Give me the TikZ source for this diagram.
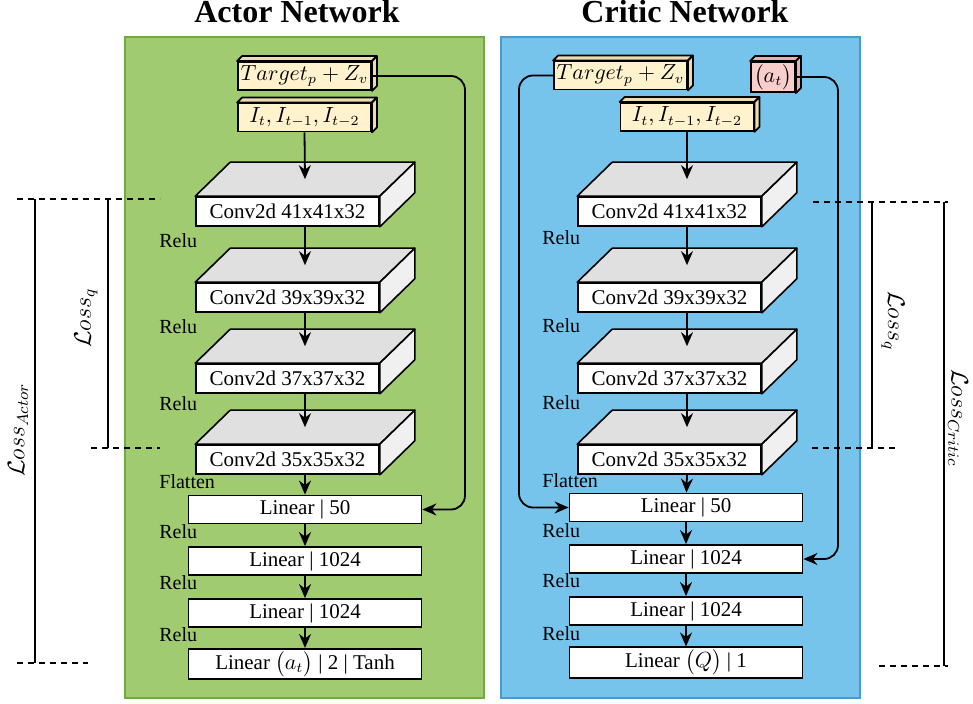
\documentclass[tikz,border=0pt]{standalone}
\usepackage{fontspec}
\setmainfont{Liberation Serif}
\usepackage{amsmath,amssymb}
\usetikzlibrary{positioning,arrows.meta,calc}
\definecolor{actorgreen}{HTML}{A1CB71}
\definecolor{actorborder}{HTML}{6FAA45}
\definecolor{criticblue}{HTML}{76C4EC}
\definecolor{criticborder}{HTML}{4A9ACD}
\definecolor{inputyellow}{HTML}{FFF2CC}
\definecolor{inputshade}{HTML}{EBDCB2}
\definecolor{actpink}{HTML}{F8CECC}
\definecolor{actshade}{HTML}{E3B2B0}
\definecolor{convtopgrey}{HTML}{E0E0E0}
\definecolor{convsidegrey}{HTML}{F0F0F0}

\begin{document}
\begin{tikzpicture}[
  x=0.5pt,y=-0.5pt,
  font=\fontsize{10.5}{12}\selectfont,
  panel/.style={rectangle,line width=0.8pt,minimum width=179.5pt,minimum height=330.5pt,inner sep=0pt},
  titletxt/.style={font=\fontsize{16}{19}\selectfont\bfseries,anchor=base},
  inbox/.style={rectangle,draw=black,line width=0.9pt,fill=inputyellow,minimum width=66.5pt,minimum height=14pt,inner sep=1pt},
  actbox/.style={rectangle,draw=black,line width=0.9pt,fill=actpink,minimum width=22pt,minimum height=15pt,inner sep=1pt},
  convbox/.style={rectangle,draw=black,line width=0.8pt,fill=white,minimum width=91.5pt,minimum height=14.5pt,inner sep=1pt},
  linbox/.style={rectangle,draw=black,line width=0.9pt,fill=white,minimum width=116.5pt,minimum height=14pt,inner sep=1pt},
  convtop/.style={draw=black,line width=0.8pt,fill=convtopgrey,line join=round},
  convside/.style={draw=black,line width=0.8pt,fill=convsidegrey,line join=round},
  lbl/.style={font=\fontsize{10}{12}\selectfont,anchor=west,inner sep=0pt},
  losslbl/.style={font=\fontsize{12}{14}\selectfont,inner sep=0pt},
  arr/.style={-{Stealth[length=7pt,width=6pt]},line width=0.9pt},
  dashln/.style={line width=0.7pt,dash pattern=on 3pt off 2.5pt},
  brk/.style={line width=0.6pt},
]
\useasboundingbox (0,0) rectangle (973,704);

% Panels and titles
\node[panel,draw=actorborder,fill=actorgreen] (apanel) at (304.5,367.5) {};
\node[panel,draw=criticborder,fill=criticblue] (cpanel) at (680.5,367.5) {};
\node[titletxt] (atitle) at (297,23) {Actor Network};
\node[titletxt] (ctitle) at (685,23) {Critic Network};

% Actor network (left)
\node[inbox] (atarget) at (304.5,76)  {$Target_p + Z_v$};
\node[inbox] (aimg)    at (304.5,117.5) {$I_t, I_{t-1}, I_{t-2}$};
\node[convbox] (a1) at (287.5,211.5) {Conv2d 41x41x32};
\node[convbox] (a2) at (287.5,297.5) {Conv2d 39x39x32};
\node[convbox] (a3) at (287.5,378.5) {Conv2d 37x37x32};
\node[convbox] (a4) at (287.5,459.5) {Conv2d 35x35x32};
\node[linbox] (al1) at (305,509.5) {Linear | 50};
\node[linbox] (al2) at (305,561)   {Linear | 1024};
\node[linbox] (al3) at (305,613)   {Linear | 1024};
\node[linbox] (al4) at (305,664)   {Linear $\bigl(a_t\bigr)$ | 2 | Tanh};
\node[lbl] (arelu1) at (159,241) {Relu};
\node[lbl] (arelu2) at (159,327) {Relu};
\node[lbl] (arelu3) at (159,404) {Relu};
\node[lbl] (aflat)  at (159,482) {Flatten};
\node[lbl] (arelu4) at (159,532) {Relu};
\node[lbl] (arelu5) at (159,583) {Relu};
\node[lbl] (arelu6) at (159,635) {Relu};

% Critic network (right)
\node[inbox]  (ctarget) at (620.5,75.5) {$Target_p + Z_v$};
\node[actbox] (cact)    at (773,77)     {$\bigl(a_t\bigr)$};
\node[inbox]  (cimg)    at (687,117)    {$I_t, I_{t-1}, I_{t-2}$};
\node[convbox] (c1) at (669.5,211.5) {Conv2d 41x41x32};
\node[convbox] (c2) at (669.5,297.5) {Conv2d 39x39x32};
\node[convbox] (c3) at (669.5,378.5) {Conv2d 37x37x32};
\node[convbox] (c4) at (669.5,459.5) {Conv2d 35x35x32};
\node[linbox] (cl1) at (686,507.5) {Linear | 50};
\node[linbox] (cl2) at (686,559)   {Linear | 1024};
\node[linbox] (cl3) at (686,611)   {Linear | 1024};
\node[linbox] (cl4) at (686,662.5) {Linear $\bigl(Q\bigr)$ | 1};
\node[lbl] (crelu1) at (542,238) {Relu};
\node[lbl] (crelu2) at (542,326) {Relu};
\node[lbl] (crelu3) at (542,403) {Relu};
\node[lbl] (cflat)  at (542,481) {Flatten};
\node[lbl] (crelu4) at (542,531) {Relu};
\node[lbl] (crelu5) at (542,581) {Relu};
\node[lbl] (crelu6) at (542,634) {Relu};

% 3D faces of the blocks
\foreach \n in {a1,a2,a3,a4,c1,c2,c3,c4} {
  \draw[convtop] (\n.north west) -- ++(35,-34) -- ($(\n.north east)+(35,-34)$) -- (\n.north east) -- cycle;
  \draw[convside] (\n.north east) -- ++(35,-34) -- ($(\n.south east)+(35,-34)$) -- (\n.south east) -- cycle;
  \coordinate (top\n) at ($(\n.north)+(17.5,-17)$);
}
\foreach \n/\shade in {atarget/inputshade,aimg/inputshade,ctarget/inputshade,cimg/inputshade,cact/actshade} {
  \draw[convtop,fill=\shade,line width=0.9pt] (\n.north west) -- ++(5,-5) -- ($(\n.north east)+(5,-5)$) -- (\n.north east) -- cycle;
  \draw[convside,fill=\shade,line width=0.9pt] (\n.north east) -- ++(5,-5) -- ($(\n.south east)+(5,-5)$) -- (\n.south east) -- cycle;
}

% Actor connectors
\draw[arr] (aimg.south) -- (topa1);
\draw[arr] (topa1 |- a1.south) -- (topa2);
\draw[arr] (topa2 |- a2.south) -- (topa3);
\draw[arr] (topa3 |- a3.south) -- (topa4);
\draw[arr] (topa4 |- a4.south) -- (al1);
\draw[arr] (al1) -- (al2);
\draw[arr] (al2) -- (al3);
\draw[arr] (al3) -- (al4);
\coordinate (abend) at (465,0);
\draw[arr,rounded corners=7pt] (atarget.east) -| (abend |- al1.east) -- (al1.east);

% Critic connectors
\draw[arr] (cimg.south) -- (topc1);
\draw[arr] (topc1 |- c1.south) -- (topc2);
\draw[arr] (topc2 |- c2.south) -- (topc3);
\draw[arr] (topc3 |- c3.south) -- (topc4);
\draw[arr] (topc4 |- c4.south) -- (cl1);
\draw[arr] (cl1) -- (cl2);
\draw[arr] (cl2) -- (cl3);
\draw[arr] (cl3) -- (cl4);
\coordinate (cbendl) at (519,0);
\coordinate (cbendr) at (838,0);
\draw[arr,rounded corners=7pt] (ctarget.west) -| (cbendl |- cl1.west) -- (cl1.west);
\draw[arr,rounded corners=7pt] (cact.east) -| (cbendr |- cl2.east) -- (cl2.east);

% Loss brackets (left)
\draw[dashln] (17,199) -- (160,199);
\draw[dashln] (91,448) -- (160,448);
\draw[dashln] (17,663) -- (88,663);
\draw[brk] (108,199) -- (108,448);
\draw[brk] (35,199) -- (35,663);
\node[losslbl,rotate=90] (alossq) at (86,318) {$\mathcal{L}oss_q$};
\node[losslbl,rotate=90] (alossa) at (18,430) {$\mathcal{L}oss_{Actor}$};

% Loss brackets (right)
\draw[dashln] (813,202) -- (948,202);
\draw[dashln] (812,448) -- (898,448);
\draw[dashln] (879,666) -- (948,666);
\draw[brk] (872,202) -- (872,448);
\draw[brk] (944,202) -- (944,666);
\node[losslbl,rotate=-90] (clossq) at (893,321) {$\mathcal{L}oss_q$};
\node[losslbl,rotate=-90] (clossc) at (958,418) {$\mathcal{L}oss_{Critic}$};
\end{tikzpicture}
\end{document}
